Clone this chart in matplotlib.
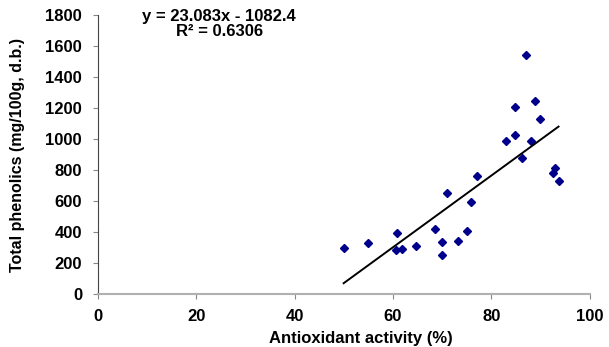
import numpy as np
import matplotlib
matplotlib.use("Agg")
import matplotlib.pyplot as plt

# Valores
antioxidant = [49.97, 54.9, 60.9, 60.6, 61.8, 64.7, 68.5, 70.0, 70.0, 71.0,
               73.2, 75.1, 75.9, 77.1, 83.0, 84.9, 84.9, 86.2, 87.0, 88.0,
               88.9, 89.9, 92.6, 93.0, 93.7]
phenolics = [300, 333, 393, 283, 294, 311, 423, 337, 251, 651,
             343, 408, 595, 764, 986, 1205, 1026, 878, 1542, 986,
             1245, 1132, 780, 814, 732]

# Recta de tendencia indicada en el gráfico
slope = 23.083
intercept = -1082.4
r2 = 0.6306

plt.rcParams["font.family"] = ["Liberation Sans", "DejaVu Sans"]
plt.rcParams["font.weight"] = "bold"

fig = plt.figure(figsize=(6.09, 3.47), dpi=100)
ax = fig.add_axes([0.161, 0.152, 0.807, 0.805])

ax.plot(antioxidant, phenolics, linestyle="none", marker="D", markersize=4.5,
        color="#00008B")
xs = np.array([min(antioxidant), max(antioxidant)])
ax.plot(xs, slope * xs + intercept, color="black", linewidth=1.4)

ax.set_xlim(0, 100)
ax.set_ylim(0, 1800)
ax.set_xticks(range(0, 101, 20))
ax.set_yticks(range(0, 1801, 200))

for s in ["top", "right"]:
    ax.spines[s].set_visible(False)
ax.spines["left"].set_color("#444444")
ax.spines["bottom"].set_color("#b0b0b0")
ax.spines["bottom"].set_linewidth(1.5)
ax.tick_params(axis="both", colors="#888888", labelcolor="black",
               labelsize=12, length=3.5)
ax.tick_params(axis="x", pad=7)
ax.tick_params(axis="y", pad=8)

for lab in ax.get_xticklabels() + ax.get_yticklabels():
    lab.set_fontweight("bold")

ax.set_xlabel("Antioxidant activity (%)", fontsize=12, fontweight="bold")
ax.xaxis.set_label_coords(0.534, -0.132)
ax.set_ylabel("Total phenolics (mg/100g, d.b.)", fontsize=11.5,
              fontweight="bold")
ax.yaxis.set_label_coords(-0.148, 0.5)

fig.text(0.36, 0.953, f"y = {slope}x - {abs(intercept)}", ha="center",
         va="center", fontsize=12, fontweight="bold")
fig.text(0.36, 0.908, f"R² = {r2}", ha="center", va="center",
         fontsize=12, fontweight="bold")

fig.savefig("out.png", dpi=100)
